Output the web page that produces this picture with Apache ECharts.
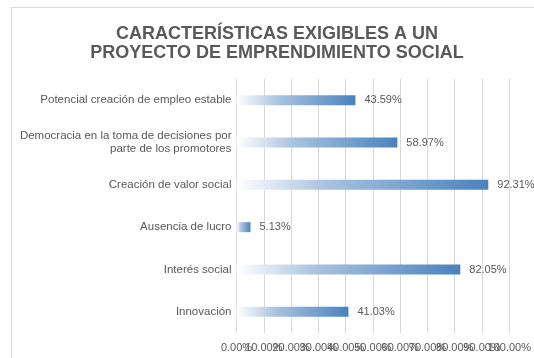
<!DOCTYPE html>
<html>
<head>
<meta charset="utf-8">
<style>
  html, body { margin: 0; padding: 0; background: #ffffff; }
  #chart { width: 534px; height: 358px; }
</style>
<script src="https://cdn.jsdelivr.net/npm/echarts@6/dist/echarts.min.js"></script>
</head>
<body>
<div id="chart"></div>
<script>
// Characteristics, top to bottom
const categories = [
  'Potencial creación de empleo estable',
  'Democracia en la toma de decisiones por\nparte de los promotores',
  'Creación de valor social',
  'Ausencia de lucro',
  'Interés social',
  'Innovación'
];
// Share of respondents (fraction of 1)
const values = [0.4359, 0.5897, 0.9231, 0.0513, 0.8205, 0.4103];
// Axis range and step
const axisMin = 0;
const axisMax = 1;
const axisStep = 0.1;

const FONT = '"Liberation Sans", Arial, sans-serif';
const pct = v => (v * 100).toFixed(2) + '%';
const stepIndex = v => Math.round((v - axisMin) / axisStep);

// Two stacked value axes share the bottom edge: one prints the even ticks,
// the other the odd ones, so every tick label is drawn even where they crowd.
function xAxisFor(parity, showGrid) {
  return {
    type: 'value',
    position: 'bottom',
    offset: 0,
    min: axisMin,
    max: axisMax,
    interval: axisStep,
    axisLine: { show: false },
    axisTick: { show: false },
    splitLine: { show: showGrid, lineStyle: { color: '#d9d9d9', width: 1 } },
    axisLabel: {
      formatter: v => (stepIndex(v) % 2 === parity ? pct(v) : ''),
      fontFamily: FONT,
      fontSize: 11,
      color: '#595959',
      margin: 9,
      hideOverlap: false,
      showMinLabel: true,
      showMaxLabel: true
    }
  };
}

const chart = echarts.init(document.getElementById('chart'), null, { renderer: 'canvas' });
chart.setOption({
  backgroundColor: '#ffffff',
  animation: false,
  graphic: [{
    type: 'rect',
    shape: { x: 11.5, y: 7.5, width: 600, height: 400 },
    style: { fill: 'none', stroke: '#d9d9d9', lineWidth: 1 },
    silent: true,
    z: -10
  }],
  title: {
    text: 'CARACTERÍSTICAS EXIGIBLES A UN\nPROYECTO DE EMPRENDIMIENTO SOCIAL',
    left: 272,
    top: 20,
    textAlign: 'center',
    textStyle: {
      fontFamily: FONT,
      fontSize: 18,
      fontWeight: 'bold',
      color: '#595959',
      lineHeight: 18.5
    }
  },
  grid: { left: 236.5, right: 22.5, top: 79, bottom: 25, containLabel: false },
  xAxis: [xAxisFor(0, true), xAxisFor(1, false)],
  yAxis: {
    type: 'category',
    data: categories,
    inverse: true,
    axisLine: { show: false },
    axisTick: { show: false },
    splitLine: { show: false },
    axisLabel: {
      fontFamily: FONT,
      fontSize: 11.5,
      color: '#595959',
      margin: 5,
      lineHeight: 13,
      interval: 0
    }
  },
  series: [{
    type: 'bar',
    xAxisIndex: 0,
    data: values,
    barWidth: 10,
    itemStyle: {
      color: new echarts.graphic.LinearGradient(0, 0, 1, 0, [
        { offset: 0, color: 'rgba(255,255,255,1)' },
        { offset: 0.35, color: '#a9c3e0' },
        { offset: 1, color: '#4a82be' }
      ])
    },
    label: {
      show: true,
      position: 'right',
      distance: 9,
      formatter: p => pct(p.value),
      fontFamily: FONT,
      fontSize: 11,
      color: '#595959'
    }
  }]
});
</script>
</body>
</html>
